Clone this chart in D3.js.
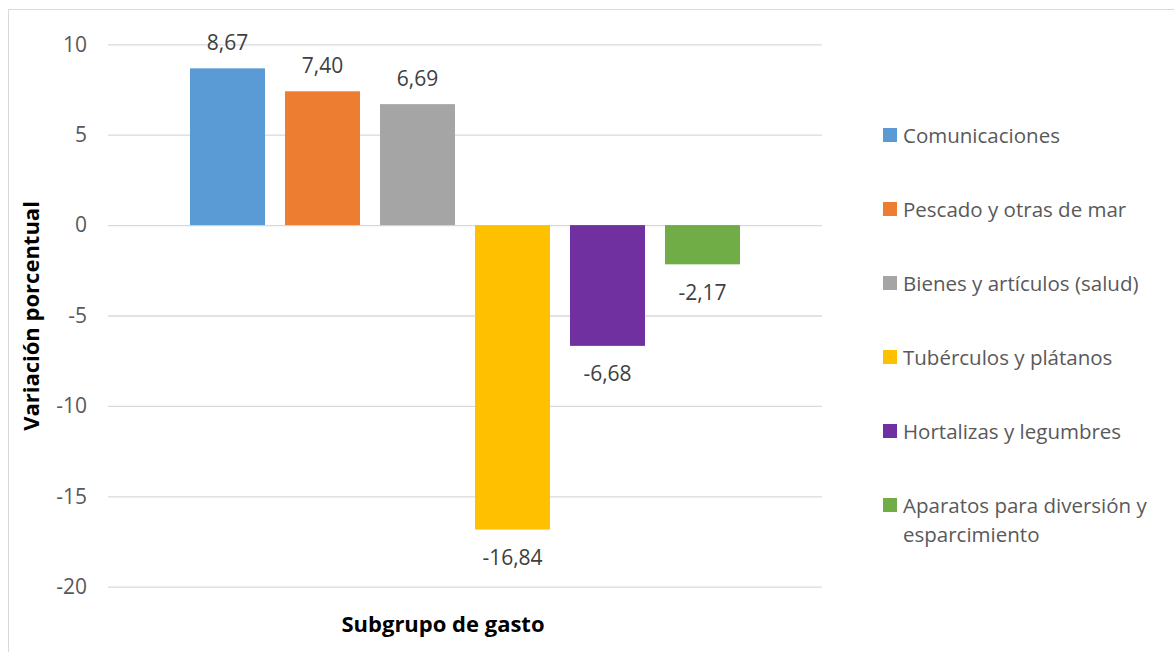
<!DOCTYPE html>
<html><head><meta charset="utf-8">
<script src="https://cdn.jsdelivr.net/npm/d3@7"></script>
<style>
body{margin:0;background:#fff;}
svg{display:block;font-family:"Open Sans",sans-serif;}
</style></head>
<body>
<svg id="chart" width="1174" height="652"></svg>
<script>
const series = ["Comunicaciones","Pescado y otras de mar","Bienes y artículos (salud)","Tubérculos y plátanos","Hortalizas y legumbres","Aparatos para diversión y esparcimiento"];
const values = [8.67, 7.40, 6.69, -16.84, -6.68, -2.17];
const labels = ["8,67","7,40","6,69","-16,84","-6,68","-2,17"];
const colors = ["#5B9BD5","#ED7D31","#A5A5A5","#FFC000","#7030A0","#70AD47"];
const yTicks = [10,5,0,-5,-10,-15,-20];
const legendLines = [["Comunicaciones"],["Pescado y otras de mar"],["Bienes y artículos (salud)"],["Tubérculos y plátanos"],["Hortalizas y legumbres"],["Aparatos para diversión y","esparcimiento"]];

const svg = d3.select("#chart");
svg.append("rect").attr("x",8.5).attr("y",9.5).attr("width",1180).attr("height",660)
  .attr("fill","#fff").attr("stroke","#d9d9d9").attr("stroke-width",1);

const y = d3.scaleLinear().domain([-20,10]).range([586.7,44.3]);
const x = d3.scaleBand().domain(series).range([108,822]).paddingInner(0.2105).paddingOuter(0.863);

const yAxis = svg.append("g").attr("transform","translate(108,0)")
  .call(d3.axisLeft(y).tickValues(yTicks).tickSize(-714).tickPadding(21).tickFormat(d=>String(d)));
yAxis.select(".domain").remove();
yAxis.selectAll(".tick line").attr("stroke","#d9d9d9").attr("stroke-width",1.3);
yAxis.selectAll(".tick text").attr("fill","#595959").style("font-size","21px").style("font-family","Open Sans");

svg.append("g").selectAll("rect.bar").data(values).join("rect")
  .attr("x",(d,i)=>x(series[i])).attr("width",x.bandwidth())
  .attr("y",d=>y(Math.max(0,d))).attr("height",d=>Math.abs(y(d)-y(0)))
  .attr("fill",(d,i)=>colors[i]);

svg.append("g").selectAll("text").data(values).join("text")
  .attr("x",(d,i)=>x(series[i])+x.bandwidth()/2)
  .attr("y",d=> d>=0 ? y(d)-18.5 : y(d)+35.5)
  .attr("text-anchor","middle").attr("fill","#404040").style("font-size","21px")
  .text((d,i)=>labels[i]);

svg.append("text").attr("transform","translate(39,316) rotate(-90)").attr("text-anchor","middle")
  .style("font-size","22px").style("font-weight","bold").attr("fill","#000").text("Variación porcentual");
svg.append("text").attr("x",443).attr("y",632).attr("text-anchor","middle")
  .style("font-size","22px").style("font-weight","bold").attr("fill","#000").text("Subgrupo de gasto");

const lg = svg.append("g");
legendLines.forEach((lines,i)=>{
  const cy = 135 + i*74;
  lg.append("rect").attr("x",883).attr("y",cy-7).attr("width",14).attr("height",14).attr("fill",colors[i]);
  lines.forEach((t,j)=>{
    lg.append("text").attr("x",903).attr("y",cy+7.5+j*29).attr("fill","#595959").style("font-size","20.5px").text(t);
  });
});
</script>
</body></html>
